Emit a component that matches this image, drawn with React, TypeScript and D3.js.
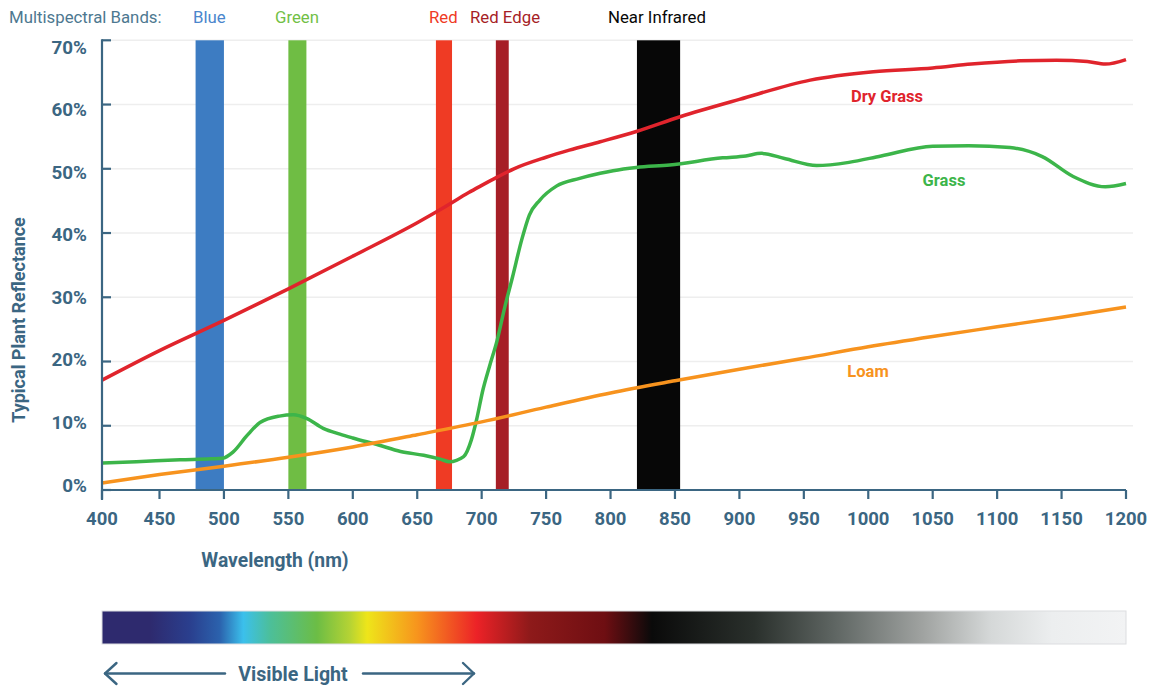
import React from "react";
import * as d3 from "d3";

const xTicks = [400, 450, 500, 550, 600, 650, 700, 750, 800, 850, 900, 950, 1000, 1050, 1100, 1150, 1200];
const yTicks = [0, 10, 20, 30, 40, 50, 60, 70];

const bands = [
  { name: "Blue", from: 478, to: 500, color: "#3d7cc2", text: "#4a86cc" },
  { name: "Green", from: 550, to: 564, color: "#6fbd44", text: "#72bf46" },
  { name: "Red", from: 664.5, to: 677, color: "#ef3b24", text: "#ef3b24" },
  { name: "Red Edge", from: 711, to: 721, color: "#a61e26", text: "#a61e26" },
  { name: "Near Infrared", from: 820.5, to: 854, color: "#070707", text: "#070707" },
];
const bandLabelX = [193, 275, 429, 470, 608];

const dryGrass: [number, number][] = [
  [400, 17.1], [450, 21.7], [500, 26.4], [550, 31.3], [600, 36.4], [650, 41.6], [671, 44.0],
  [690, 46.3], [699, 47.3], [712, 48.7], [725, 50.0], [750, 51.8], [768, 52.9], [792, 54.2],
  [820, 55.8], [854, 58.1], [900, 60.8], [955, 63.8], [1004, 65.1], [1050, 65.7], [1080, 66.3],
  [1118, 66.8], [1146, 66.9], [1170, 66.7], [1184, 66.3], [1200, 67.0],
];

const grass: [number, number][] = [
  [400, 4.2], [430, 4.4], [466, 4.7], [490, 4.85], [499, 4.95], [507, 5.9], [518, 8.5],
  [528, 10.5], [543, 11.5], [554, 11.7], [564, 11.15], [577, 9.6], [590, 8.7], [600, 8.1],
  [620, 7.0], [637, 6.0], [655, 5.4], [668, 4.8], [675, 4.4], [686, 5.2], [692, 7.8],
  [696, 10.9], [701, 15.6], [706, 19.2], [712, 23.3], [718, 28.5], [724, 33.2], [731, 38.9],
  [737, 42.8], [745, 45.1], [758, 47.3], [776, 48.5], [792, 49.3], [802, 49.7], [820, 50.2],
  [846, 50.6], [887, 51.7], [905, 52.0], [917, 52.4], [935, 51.6], [960, 50.5], [985, 51.0],
  [1010, 52.0], [1050, 53.5], [1078, 53.6], [1110, 53.3], [1135, 51.9], [1159, 48.8],
  [1184, 47.2], [1200, 47.7],
];

const loam: [number, number][] = [
  [400, 1.1], [450, 2.4], [500, 3.7], [550, 5.1], [600, 6.7], [650, 8.6], [700, 10.6],
  [750, 12.9], [800, 15.1], [850, 17.0], [900, 18.8], [950, 20.5], [1000, 22.3], [1050, 23.9],
  [1100, 25.4], [1150, 26.9], [1200, 28.5],
];

const series = [
  { name: "Dry Grass", data: dryGrass, color: "#e0242c", label: [887, 102] },
  { name: "Grass", data: grass, color: "#3cb54a", label: [944, 186] },
  { name: "Loam", data: loam, color: "#f7931e", label: [868, 377] },
];

const spectrumStops: [number, string][] = [
  [0, "#2e2a6e"], [0.047, "#2e2a6e"], [0.086, "#2a3f8e"], [0.115, "#2b62ad"], [0.138, "#3bc0ec"],
  [0.164, "#4cbf9a"], [0.21, "#6cbd45"], [0.242, "#b5d334"], [0.259, "#eee51a"], [0.308, "#f7941d"],
  [0.366, "#ec2227"], [0.418, "#8e1a1a"], [0.491, "#6e0e12"], [0.537, "#0a0a0a"], [0.637, "#2a302c"],
  [0.716, "#5f6663"], [0.802, "#a0a3a1"], [0.868, "#d5d8d8"], [0.928, "#eceeef"], [1, "#f2f3f4"],
];

const AXIS = "#3b6682";
const FONT = "Roboto, 'Noto Sans', sans-serif";

export default function App() {
  const x = d3.scaleLinear().domain([400, 450, 1200]).range([102, 159.5, 1126]);
  const y = d3.scaleLinear().domain([0, 70]).range([490, 40.3]);
  // tick labels in the original sit on a slightly tighter spacing than the tick marks
  const yLabel = d3.scaleLinear().domain([0, 70]).range([485, 47]);
  const line = d3
    .line<[number, number]>()
    .x((d) => x(d[0]))
    .y((d) => y(d[1]))
    .curve(d3.curveMonotoneX);

  const x0 = x.range()[0];
  const x1 = x.range()[2];

  return (
    <svg
      width={1152}
      height={686}
      style={{ position: "absolute", left: 0, top: 0, background: "#fff" }}
      fontFamily={FONT}
    >
      <defs>
        <linearGradient id="spec" x1="0" x2="1" y1="0" y2="0">
          {spectrumStops.map(([o, c], i) => (
            <stop key={i} offset={o} stopColor={c} />
          ))}
        </linearGradient>
      </defs>

      {/* legend */}
      <text x={9} y={23} fontSize={16.8} fill="#4d7890">Multispectral Bands:</text>
      {bands.map((b, i) => (
        <text key={b.name} x={bandLabelX[i]} y={23} fontSize={16.8} fill={b.text}>{b.name}</text>
      ))}

      {/* gridlines */}
      {yTicks.filter((t) => t > 0).map((t) => (
        <line key={t} x1={x0} x2={1133} y1={y(t)} y2={y(t)} stroke="#eeeeee" strokeWidth={1.5} />
      ))}

      {/* bands */}
      {bands.map((b) => (
        <rect key={b.name} x={x(b.from)} width={x(b.to) - x(b.from)} y={y(70)} height={y(0) - y(70)} fill={b.color} />
      ))}

      {/* lines */}
      {series.map((s) => (
        <path key={s.name} d={line(s.data) || ""} fill="none" stroke={s.color} strokeWidth={3.5} strokeLinejoin="round" />
      ))}
      {series.map((s) => (
        <text key={s.name + "l"} x={s.label[0]} y={s.label[1]} fontSize={16.5} fontWeight="bold" fill={s.color} textAnchor="middle">
          {s.name}
        </text>
      ))}

      {/* y axis */}
      <line x1={x0} x2={x0} y1={y(70) - 1} y2={500} stroke={AXIS} strokeWidth={2.2} />
      {yTicks.map((t) => (
        <g key={t}>
          <line x1={x0} x2={x0 + 9} y1={y(t)} y2={y(t)} stroke={AXIS} strokeWidth={2.2} />
          <text x={87} y={yLabel(t) + 6.6} fontSize={18.8} fontWeight="bold" fill={AXIS} textAnchor="end">{t}%</text>
        </g>
      ))}
      <text
        transform={`translate(25, ${320}) rotate(-90)`}
        fontSize={18}
        fontWeight="bold"
        fill={AXIS}
        textAnchor="middle"
      >
        Typical Plant Reflectance
      </text>

      {/* x axis */}
      <line x1={x0} x2={x1} y1={y(0)} y2={y(0)} stroke={AXIS} strokeWidth={2.2} />
      {xTicks.map((t) => (
        <g key={t}>
          <line x1={x(t)} x2={x(t)} y1={y(0)} y2={y(0) + 9} stroke={AXIS} strokeWidth={2.2} />
          <text x={x(t)} y={525} fontSize={18.5} fontWeight="bold" fill={AXIS} textAnchor="middle">{t}</text>
        </g>
      ))}
      <text x={275} y={567} fontSize={19.3} fontWeight="bold" fill={AXIS} textAnchor="middle">Wavelength (nm)</text>

      {/* spectrum */}
      <rect x={x0} y={611} width={x1 - x0} height={33} fill="url(#spec)" stroke="#dcdde0" strokeWidth={1} />

      {/* visible light arrow */}
      <g stroke={AXIS} strokeWidth={2.4} fill="none" strokeLinecap="round" strokeLinejoin="round">
        <line x1={105} x2={225} y1={673.5} y2={673.5} />
        <polyline points="116.5,663 105,673.5 116.5,684" />
        <line x1={363} x2={474} y1={673.5} y2={673.5} />
        <polyline points="463,663 474,673.5 463,684" />
      </g>
      <text x={293} y={680.5} fontSize={19.6} fontWeight="bold" fill={AXIS} textAnchor="middle">Visible Light</text>
    </svg>
  );
}
